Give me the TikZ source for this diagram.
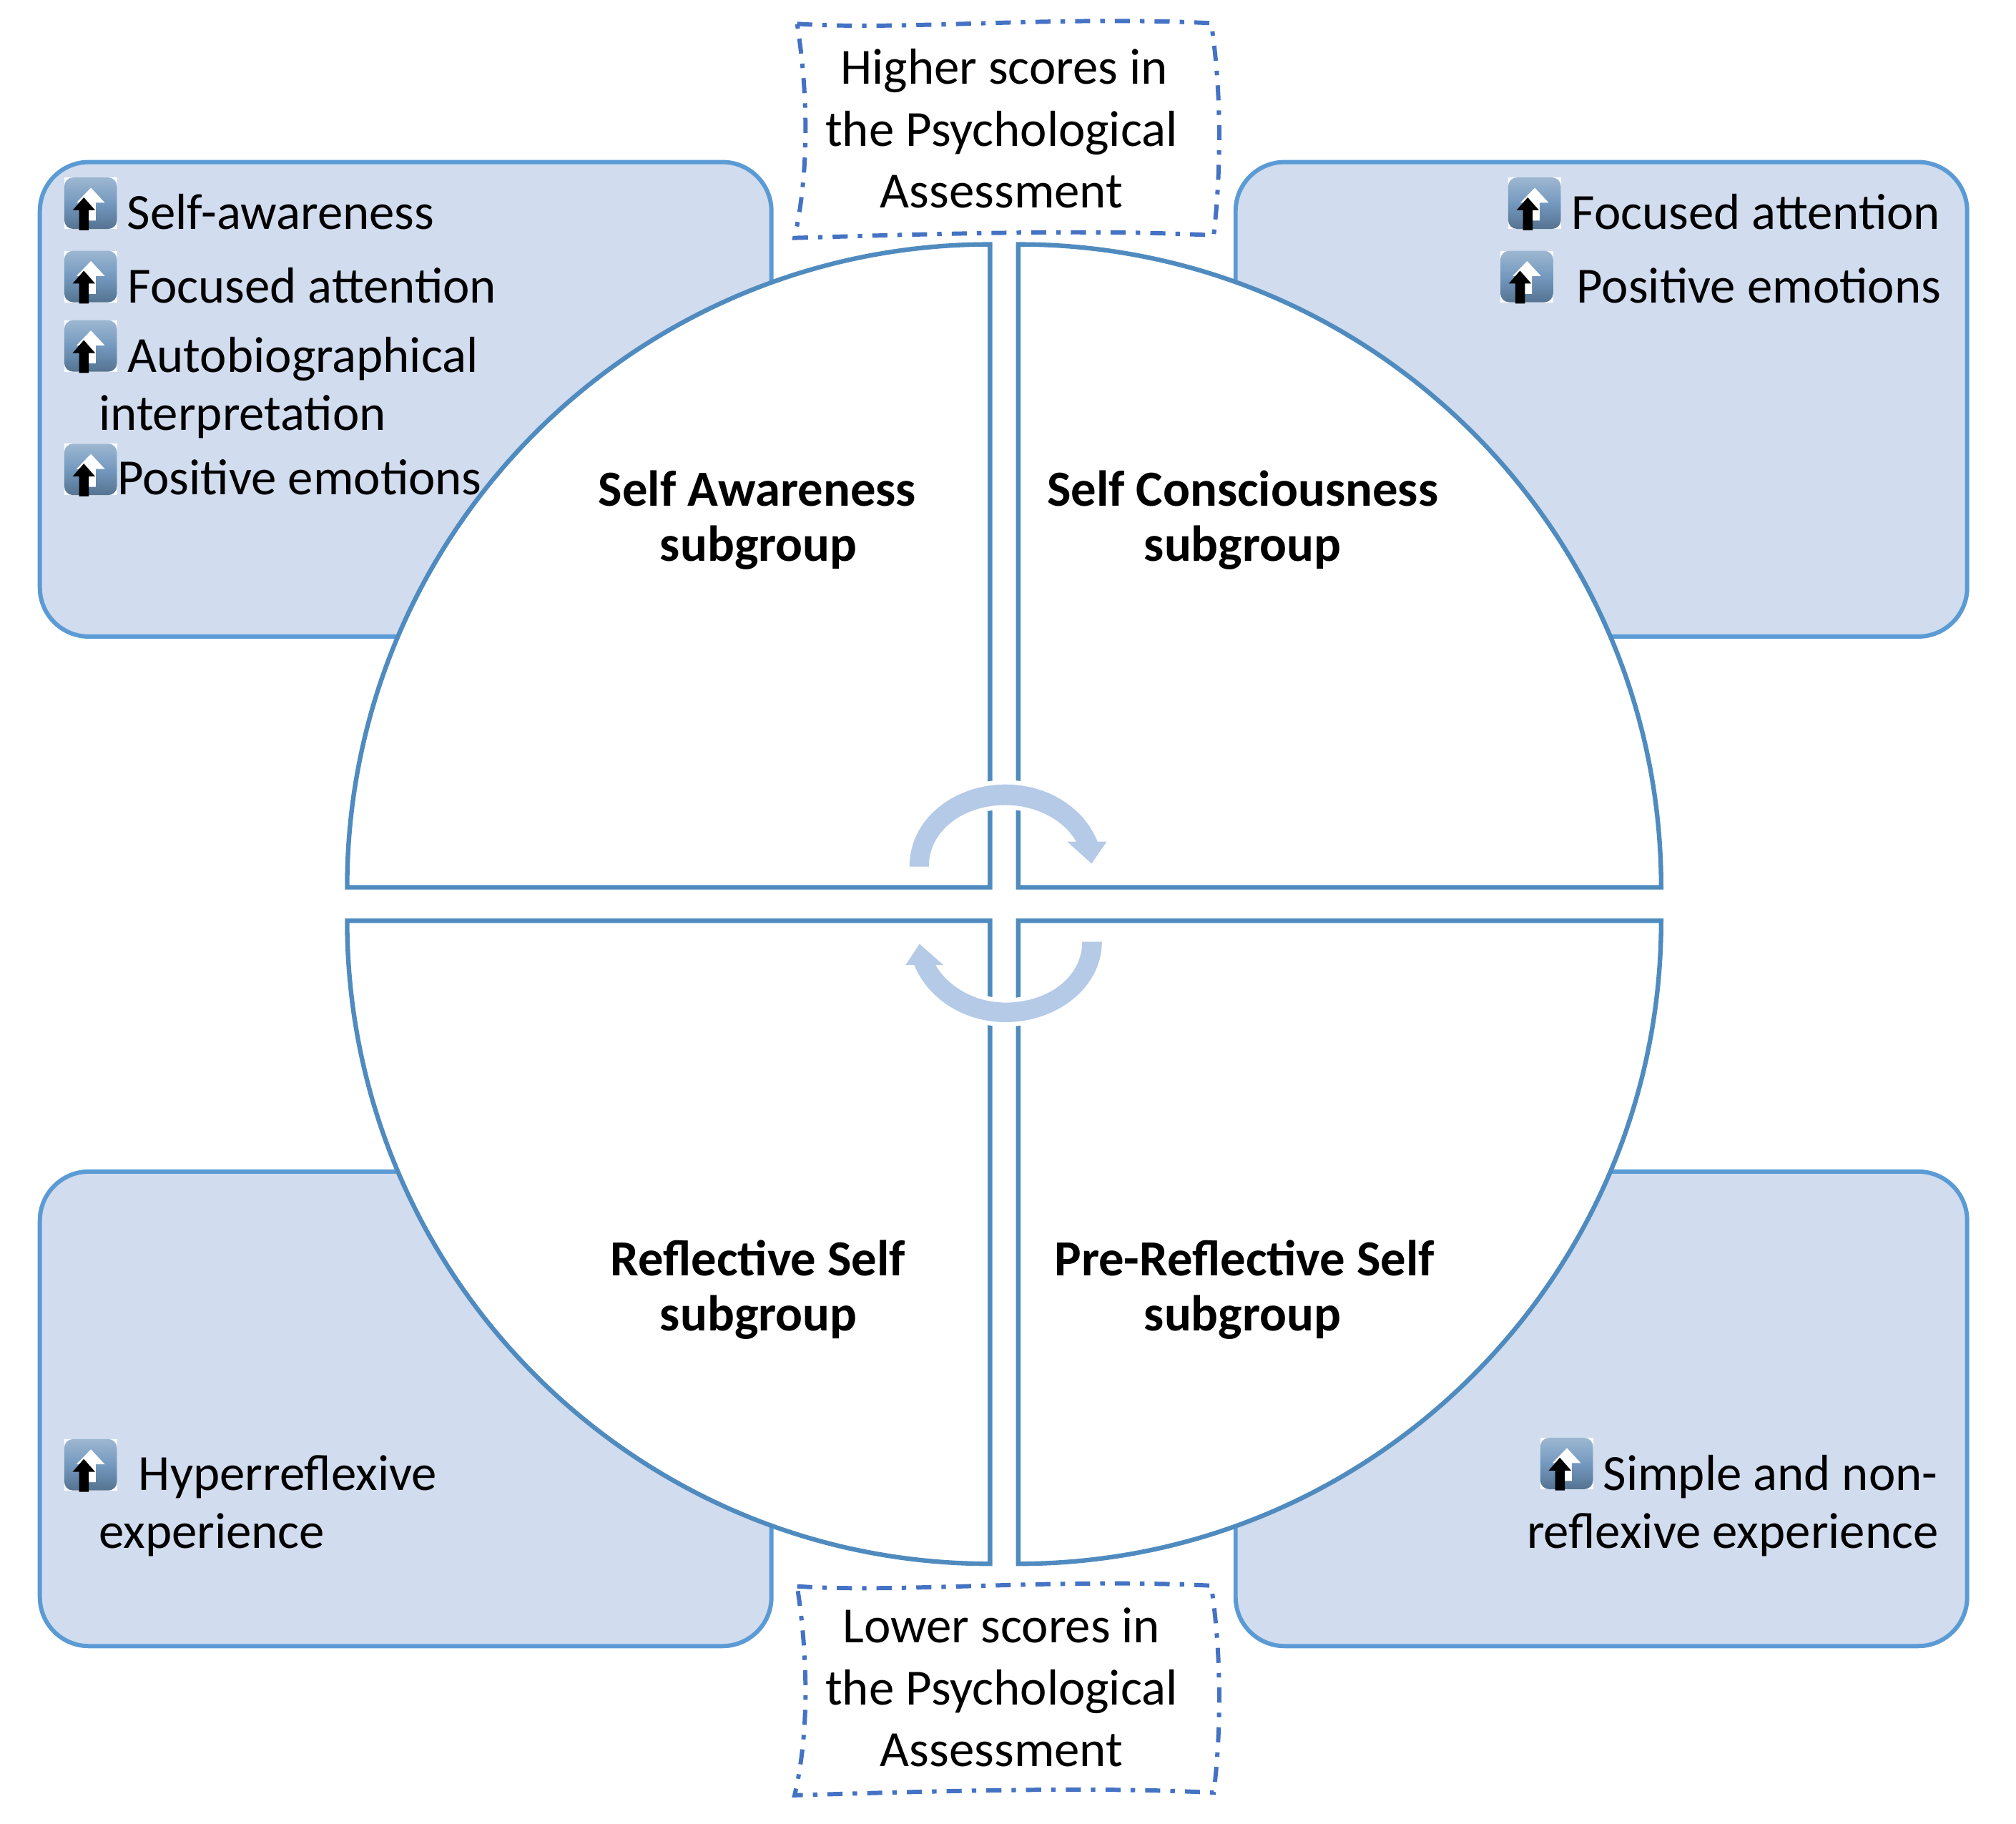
\documentclass[tikz,border=0pt]{standalone}
\usepackage{fontspec}
\setmainfont{Carlito}
\usetikzlibrary{arrows.meta}
\definecolor{boxfill}{HTML}{D1DCEE}
\definecolor{boxline}{HTML}{5B9BD5}
\definecolor{quadline}{HTML}{4F8BBF}
\definecolor{dashline}{HTML}{4472C4}
\definecolor{cyc}{HTML}{B4CAE7}
\definecolor{icontop}{HTML}{9DB7D1}
\definecolor{iconmid}{HTML}{7499BF}
\definecolor{iconbot}{HTML}{557391}
\tikzset{
  x=0.017978cm,y=-0.017978cm,
  panel/.style={draw=boxline,fill=boxfill,line width=1.7pt,rounded corners=19.5pt},
  quad/.style={draw=quadline,fill=white,line width=1.8pt,line join=miter},
  dashbox/.style={draw=dashline,line width=1.7pt,dash pattern=on 6pt off 4pt on 1.8pt off 4pt},
  cycle/.style={fill=cyc,preaction={draw=white,line width=3.5pt}},
  itemtext/.style={font=\fontsize{20.15}{24}\selectfont,inner sep=0pt,anchor=base west},
  itemright/.style={font=\fontsize{20.15}{24}\selectfont,inner sep=0pt,anchor=base east},
  headtext/.style={font=\fontsize{20.1}{24}\selectfont\bfseries,inner sep=0pt,anchor=base},
  notetext/.style={font=\fontsize{20.15}{24}\selectfont,inner sep=0pt,anchor=base},
  updot/.pic={
    \fill[white] (0,0) rectangle (41,40);
    \shade[top color=icontop,bottom color=iconbot,middle color=iconmid,rounded corners=3.5pt] (0,0) rectangle (41,40);
    \fill[white] (20.7,8) -- (31.5,19.6) -- (24.5,19.6) -- (24.5,33.5) -- (12,33.5) -- (12,19.6) -- (9.5,19.6) -- cycle;
    \fill[black] (15.2,15.5) -- (24,25.5) -- (19,25.5) -- (19,41) -- (11.5,41) -- (11.5,25.5) -- (6.5,25.5) -- cycle;
  }
}
\begin{document}
\begin{tikzpicture}
\useasboundingbox (0,0) rectangle (1568,1417.9);
% panels
\path[panel] (31,126) rectangle (600,495);
\path[panel] (961,126) rectangle (1530,495);
\path[panel] (31,911) rectangle (600,1280);
\path[panel] (961,911) rectangle (1530,1280);
% quadrants
\path[quad] (770,690) -- (270,690) arc[start angle=180,end angle=270,x radius=500,y radius=500] -- cycle;
\path[quad] (792,690) -- (792,190) arc[start angle=270,end angle=360,x radius=500,y radius=500] -- cycle;
\path[quad] (792,716) -- (1292,716) arc[start angle=0,end angle=90,x radius=500,y radius=500] -- cycle;
\path[quad] (770,716) -- (770,1216) arc[start angle=90,end angle=180,x radius=500,y radius=500] -- cycle;
% cycle arrows
\path[cycle] (707.4,673.9) .. controls (707.4,636) and (743,610) .. (782,610)
  .. controls (815,610) and (843,628) .. (853.6,654.4) -- (860.8,654.4) -- (849,671.5) -- (830,654.4) -- (837,654.4)
  .. controls (828,638) and (806,626) .. (782,626)
  .. controls (749,626) and (722.4,646) .. (722.4,673.9) -- cycle;
\path[cycle] (857,732.3) .. controls (857,768) and (822,794.8) .. (782,794.8)
  .. controls (750,794.8) and (722,777) .. (711,750.3) -- (704.4,750.3) -- (715.2,734) -- (733.6,750.3) -- (727.6,750.3)
  .. controls (737,767) and (758,779.6) .. (782,779.6)
  .. controls (815,779.6) and (841.7,760) .. (841.7,732.3) -- cycle;
% dashed note boxes
\path[dashbox] (620,18.5) .. controls (700,24) and (820,12) .. (942,18)
  .. controls (950,70) and (950,130) .. (944,183)
  .. controls (850,178) and (720,182) .. (618,185)
  .. controls (630,130) and (628,70) .. (620,18.5) -- cycle;
\path[dashbox] (620,1233.5) .. controls (700,1239) and (820,1227) .. (942,1233)
  .. controls (950,1285) and (950,1345) .. (944,1394)
  .. controls (850,1389) and (720,1393) .. (618,1396)
  .. controls (630,1345) and (628,1285) .. (620,1233.5) -- cycle;
% icons
\foreach \ix/\iy in {50/138,50/195,50/249,50/345,1173/138,1167/195,50/1119,1198/1118}
  \pic at (\ix,\iy) {updot};
% items
\node[itemtext] (a1) at (98.5,178.5) {Self-awareness};
\node[itemtext] (a2) at (99,235.5) {Focused attention};
\node[itemtext] (a3) at (99,289.5) {Autobiographical};
\node[itemtext] (a4) at (76.5,334.5) {interpretation};
\node[itemtext] (a5) at (91,384.5) {Positive emotions};
\node[itemright] (b1) at (1509.5,178.5) {Focused attention};
\node[itemright] (b2) at (1510,235.5) {Positive emotions};
\node[itemtext] (c1) at (107.5,1159) {Hyperreflexive};
\node[itemtext] (c2) at (76.5,1204) {experience};
\node[itemright] (d1) at (1507.5,1159) {Simple and non-};
\node[itemright] (d2) at (1508,1204) {reflexive experience};
% headings
\node[headtext] (h1) at (589,393.5) {Self Awareness};
\node[headtext] (h2) at (590,436.5) {subgroup};
\node[headtext] (h3) at (966.5,393.5) {Self Consciousness};
\node[headtext] (h4) at (966.5,436.5) {subgroup};
\node[headtext] (h5) at (589.5,992) {Reflective Self};
\node[headtext] (h6) at (590,1035) {subgroup};
\node[headtext] (h7) at (968,992) {Pre-Reflective Self};
\node[headtext] (h8) at (966.5,1035) {subgroup};
% notes
\node[notetext] (n1) at (781,65.5) {Higher scores in};
\node[notetext] (n2) at (779,113.5) {the Psychological};
\node[notetext] (n3) at (779,161.5) {Assessment};
\node[notetext] (n4) at (779,1277.5) {Lower scores in};
\node[notetext] (n5) at (779,1325.5) {the Psychological};
\node[notetext] (n6) at (779,1373.5) {Assessment};
\end{tikzpicture}
\end{document}
